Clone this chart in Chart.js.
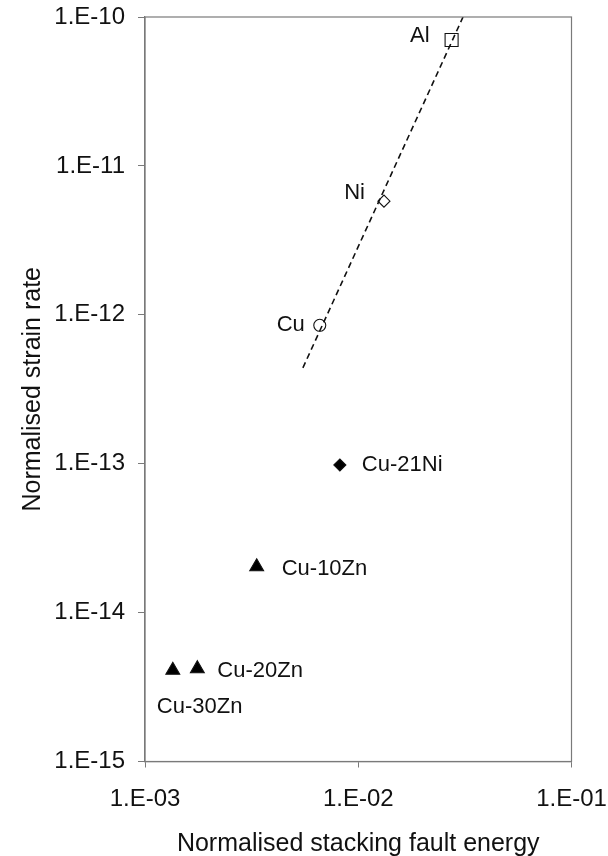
<!DOCTYPE html>
<html>
<head>
<meta charset="utf-8">
<script src="https://cdn.jsdelivr.net/npm/chart.js@4.4.1/dist/chart.umd.min.js"></script>
<style>
  html, body { margin: 0; padding: 0; background: #fff; }
  canvas { display: block; }
</style>
</head>
<body>
<canvas id="chart" width="608" height="856"></canvas>
<script>
// Materials with their normalised stacking fault energy and normalised strain rate
const materials = ['Al', 'Ni', 'Cu', 'Cu-21Ni', 'Cu-10Zn', 'Cu-20Zn', 'Cu-30Zn'];
const stackingFaultEnergy = [0.0274, 0.0132, 0.0066, 0.0082, 0.00334, 0.00176, 0.00135];
const strainRate = [7.0e-11, 5.8e-12, 8.5e-13, 9.8e-14, 2.03e-14, 4.2e-15, 4.1e-15];

// Power-law trend through the pure metals (end points of the dashed fit)
const trendEnergy = [0.0055, 0.031];
const trendRate = [4.4e-13, 1.0e-10];

// Decade ticks
const xTickValues = [1e-3, 1e-2, 1e-1];
const xTickLabels = ['1.E-03', '1.E-02', '1.E-01'];
const yTickValues = [1e-15, 1e-14, 1e-13, 1e-12, 1e-11, 1e-10];
const yTickLabels = ['1.E-15', '1.E-14', '1.E-13', '1.E-12', '1.E-11', '1.E-10'];

// Marker appearance per material (open symbols for pure metals, filled for alloys)
const markerShape = ['rect', 'rectRot', 'circle', 'rectRot', 'triangle', 'triangle', 'triangle'];
const markerSize = [9.2, 6, 6, 6, 8, 8, 8];
const markerFill = ['rgba(0,0,0,0)', 'rgba(0,0,0,0)', 'rgba(0,0,0,0)', '#000', '#000', '#000', '#000'];

// Where each material's name sits relative to its marker
const labelPlacement = [
  { dx: -22, dy: -4, align: 'right' },
  { dx: -19, dy: -8, align: 'right' },
  { dx: -15, dy: 0, align: 'right' },
  { dx: 22, dy: 0, align: 'left' },
  { dx: 25, dy: 2, align: 'left' },
  { dx: 20, dy: 2, align: 'left' },
  { dx: -16, dy: 37, align: 'left' }
];

const FONT = '"Liberation Sans", Arial, Helvetica, sans-serif';
const AXIS_GREY = '#7a7a7a';

const pointLabels = {
  id: 'pointLabels',
  afterDatasetsDraw(chart) {
    const meta = chart.getDatasetMeta(0);
    const ctx = chart.ctx;
    ctx.save();
    ctx.font = '22px ' + FONT;
    ctx.fillStyle = '#111';
    ctx.textBaseline = 'middle';
    meta.data.forEach((pt, i) => {
      const p = labelPlacement[i];
      ctx.textAlign = p.align;
      ctx.fillText(materials[i], pt.x + p.dx, pt.y + p.dy);
    });
    ctx.restore();
  }
};

const plotFrame = {
  id: 'plotFrame',
  afterDraw(chart) {
    const a = chart.chartArea;
    const ctx = chart.ctx;
    ctx.save();
    ctx.strokeStyle = AXIS_GREY;
    ctx.lineWidth = 1.2;
    ctx.strokeRect(a.left, a.top, a.right - a.left, a.bottom - a.top);
    ctx.restore();
  }
};

// Fixed scale boxes so the plot area keeps its place regardless of label overhang
function fixBox(size, prop) {
  return s => {
    s[prop] = size;
    s.paddingTop = 0;
    s.paddingBottom = 0;
    s.paddingLeft = 0;
    s.paddingRight = 0;
  };
}

new Chart(document.getElementById('chart'), {
  type: 'scatter',
  data: {
    datasets: [
      {
        label: 'Materials',
        data: materials.map((m, i) => ({ x: stackingFaultEnergy[i], y: strainRate[i] })),
        pointStyle: markerShape,
        pointRadius: markerSize,
        pointHoverRadius: markerSize,
        backgroundColor: markerFill,
        borderColor: '#111',
        borderWidth: 1.1,
        showLine: false
      },
      {
        label: 'Trend',
        data: trendEnergy.map((e, i) => ({ x: e, y: trendRate[i] })),
        showLine: true,
        borderColor: '#111',
        borderWidth: 1.6,
        borderDash: [6, 4],
        pointRadius: 0,
        fill: false
      }
    ]
  },
  options: {
    responsive: false,
    animation: false,
    devicePixelRatio: 1,
    layout: { padding: { top: 17, right: 36.5, bottom: 0, left: 0 } },
    plugins: {
      legend: { display: false },
      tooltip: { enabled: false }
    },
    scales: {
      x: {
        type: 'logarithmic',
        min: 1e-3,
        max: 1e-1,
        afterBuildTicks: s => { s.ticks = xTickValues.map(v => ({ value: v })); },
        afterFit: fixBox(94.5, 'height'),
        grid: { drawOnChartArea: false, drawTicks: true, tickLength: 6, color: AXIS_GREY },
        border: { display: true, color: AXIS_GREY, width: 1.2 },
        ticks: {
          autoSkip: false,
          maxRotation: 0,
          padding: 17,
          color: '#111',
          font: { family: FONT, size: 24, lineHeight: 1.2 },
          callback: (v, i) => xTickLabels[i]
        },
        title: {
          display: true,
          text: 'Normalised stacking fault energy',
          color: '#111',
          font: { family: FONT, size: 25, lineHeight: 1 },
          padding: { top: 0, bottom: -1 }
        }
      },
      y: {
        type: 'logarithmic',
        min: 1e-15,
        max: 1e-10,
        afterBuildTicks: s => { s.ticks = yTickValues.map(v => ({ value: v })); },
        afterFit: fixBox(145, 'width'),
        grid: { drawOnChartArea: false, drawTicks: true, tickLength: 7, color: AXIS_GREY },
        border: { display: true, color: AXIS_GREY, width: 1.2 },
        ticks: {
          autoSkip: false,
          padding: 13,
          color: '#111',
          font: { family: FONT, size: 24, lineHeight: 1.2 },
          callback: (v, i) => yTickLabels[i]
        },
        title: {
          display: true,
          text: 'Normalised strain rate',
          color: '#111',
          font: { family: FONT, size: 25, lineHeight: 1 },
          padding: { top: 21, bottom: 0 }
        }
      }
    }
  },
  plugins: [pointLabels, plotFrame]
});
</script>
</body>
</html>
